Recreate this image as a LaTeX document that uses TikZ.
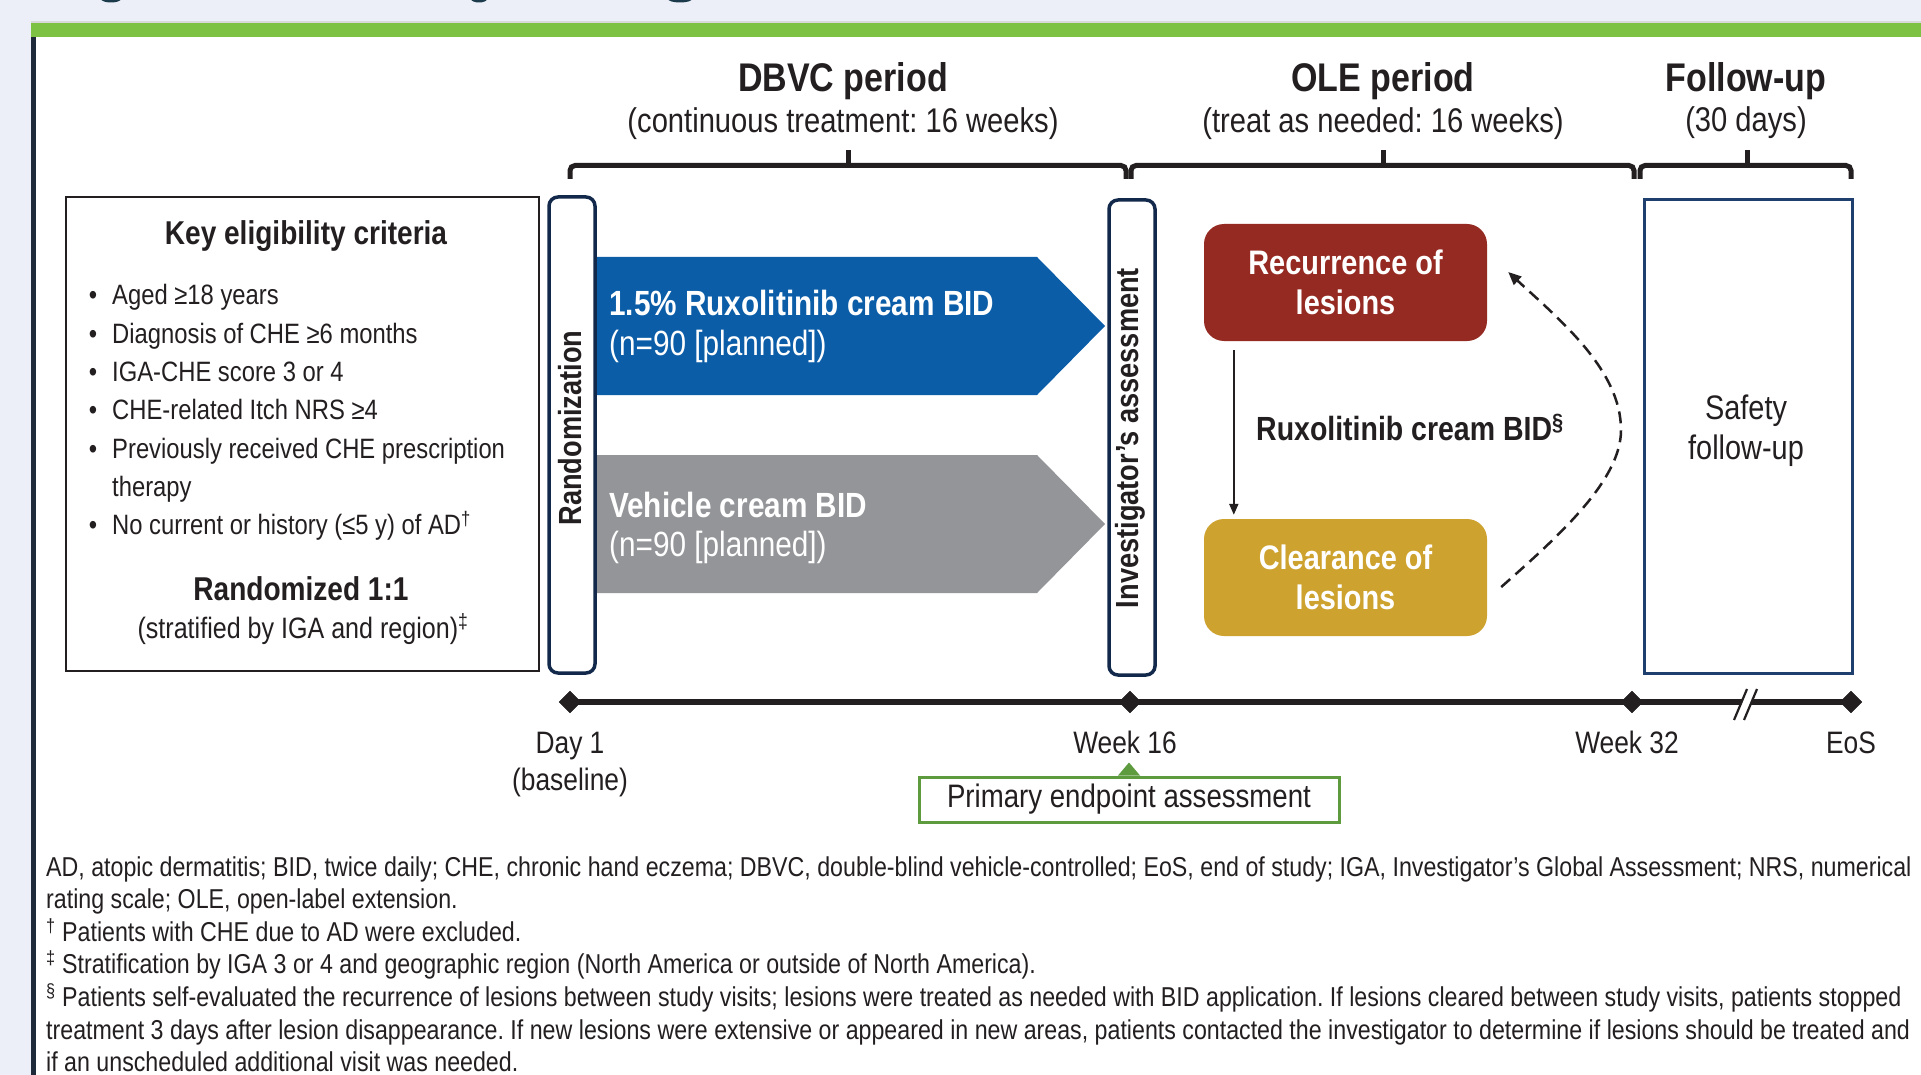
\documentclass[tikz,border=0pt]{standalone}
\usepackage{fontspec}
\setmainfont{Liberation Sans}[FakeStretch=0.85]
\usetikzlibrary{arrows.meta,shapes.geometric,calc}
\frenchspacing

\definecolor{pagebg}{HTML}{ECEFF7}
\definecolor{bargreen}{HTML}{7DC243}
\definecolor{rulecol}{HTML}{1E2A3A}
\definecolor{navy}{HTML}{13294B}
\definecolor{ruxblue}{HTML}{0B5DA8}
\definecolor{vehgrey}{HTML}{939598}
\definecolor{recred}{HTML}{952A22}
\definecolor{clrgold}{HTML}{CDA22F}
\definecolor{safenavy}{HTML}{1F3F6F}
\definecolor{endgreen}{HTML}{5E9B3F}
\definecolor{titleteal}{HTML}{1B3A4B}
\definecolor{ink}{HTML}{231F20}

\newcommand\fsz[2]{\fontsize{#1pt}{#2pt}\selectfont}

\tikzset{
  hdr/.style={font=\fsz{40}{48}\bfseries, text=ink, inner sep=0pt, anchor=base},
  sub/.style={font=\fsz{34.3}{41}\frenchspacing, text=ink, inner sep=0pt, anchor=base},
  brace/.style={line width=5pt, draw=ink, rounded corners=5pt},
  tick/.style={line width=5pt, draw=ink},
  panel/.style={draw=ink, line width=2.5pt, inner sep=0pt},
  vbar/.style={draw=navy, line width=3.5pt, rounded corners=9pt, inner sep=0pt,
               minimum width=46pt, minimum height=476pt},
  vtext/.style={rotate=90, font=\fsz{32}{38}\bfseries, text=ink, inner sep=0pt},
  bul/.style={font=\fsz{28}{34}, text=ink, inner sep=0pt, anchor=base west},
  dot/.style={font=\fsz{28}{34}, text=ink, inner sep=0pt, anchor=base},
  armhead/.style={font=\fsz{35}{42}\bfseries, text=white, inner sep=0pt, anchor=base west},
  armsub/.style={font=\fsz{35}{42}, text=white, inner sep=0pt, anchor=base west},
  statebox/.style={rounded corners=20pt, minimum width=283pt, minimum height=117pt,
                   align=center, text=white, font=\fsz{34}{40}\bfseries, inner sep=0pt},
  solidarr/.style={draw=ink, line width=2pt, -{Triangle[length=11pt,width=9pt]}},
  dasharr/.style={draw=ink, line width=2.5pt, dash pattern=on 12pt off 7pt,
                  -{Triangle[length=13pt,width=11pt]}},
  dia/.style={diamond, fill=ink, inner sep=0pt, minimum width=22pt, minimum height=22pt},
  tl/.style={draw=ink, line width=6.5pt},
  tlbl/.style={font=\fsz{31}{37}, text=ink, inner sep=0pt, anchor=base},
  fn/.style={font=\fsz{27.3}{33}\frenchspacing, text=ink, inner sep=0pt, anchor=base west},
}

\begin{document}
\begin{tikzpicture}[x=1pt,y=-1pt]
\useasboundingbox (0,0) rectangle (1921,1075);
\clip (0,0) rectangle (1921,1075);

% page and panel
\fill[pagebg] (0,0) rectangle (1921,1075);
\fill[titleteal] (111,-1) ellipse [x radius=10pt, y radius=3.5pt];
\fill[titleteal] (479,-1) ellipse [x radius=8pt, y radius=3.5pt];
\fill[titleteal] (680,-1) ellipse [x radius=12pt, y radius=3.5pt];
\fill[white] (35,37) rectangle (1921,1075);
\fill[gray!30] (31,21.3) rectangle (1921,22.8);
\fill[bargreen] (31,22.6) rectangle (1921,36.7);
\fill[rulecol] (31,36.7) rectangle (35.5,1075);

% period headers
\node[hdr] (hdbvc) at (843,92) {DBVC period};
\node[sub] (sdbvc) at (843,132.5) {(continuous treatment: 16 weeks)};
\node[hdr] (hole) at (1383,92) {OLE period};
\node[sub] (sole) at (1383,132.5) {(treat as needed: 16 weeks)};
\node[hdr] (hfu) at (1746,92) {Follow-up};
\node[sub] (sfu) at (1746,131.5) {(30 days)};

% braces
\draw[brace] (570,179) -- (570,165.5) -- (1126,165.5) -- (1126,179);
\draw[tick] (848,165.5) -- (848,150);
\draw[brace] (1131,179) -- (1131,165.5) -- (1634,165.5) -- (1634,179);
\draw[tick] (1383,165.5) -- (1383,150);
\draw[brace] (1640,179) -- (1640,165.5) -- (1851,165.5) -- (1851,179);
\draw[tick] (1747,165.5) -- (1747,150);

% eligibility panel
\node[panel, minimum width=473pt, minimum height=474pt] (crit) at (302.5,434) {};
\node[font=\fsz{33}{40}\bfseries, text=ink, inner sep=0pt, anchor=base] (crittitle) at (306,245) {Key eligibility criteria};
\node[dot] (b1) at (93,305) {•};
\node[bul] (t1) at (112,305) {Aged ≥18 years};
\node[dot] (b2) at (93,343.3) {•};
\node[bul] (t2) at (112,343.3) {Diagnosis of CHE ≥6 months};
\node[dot] (b3) at (93,381.6) {•};
\node[bul] (t3) at (112,381.6) {IGA-CHE score 3 or 4};
\node[dot] (b4) at (93,419.9) {•};
\node[bul] (t4) at (112,419.9) {CHE-related Itch NRS ≥4};
\node[dot] (b5) at (93,458.2) {•};
\node[bul] (t5) at (112,458.2) {Previously received CHE prescription};
\node[bul] (t5b) at (112,496.5) {therapy};
\node[dot] (b6) at (93,534.8) {•};
\node[bul] (t6) at (112,534.8) {No current or history (≤5 y) of AD\textsuperscript{†}};
\node[font=\fsz{33}{40}\bfseries, text=ink, inner sep=0pt, anchor=base] (rand11) at (301,600) {Randomized 1:1};
\node[font=\fsz{29.5}{35}, text=ink, inner sep=0pt, anchor=base] (strat) at (303,638) {(stratified by IGA and region)\textsuperscript{‡}};

% treatment arms
\fill[ruxblue] (595,257) -- (1037,257) -- (1105,326) -- (1037,395) -- (595,395) -- cycle;
\fill[vehgrey] (595,455) -- (1037,455) -- (1105,524) -- (1037,593) -- (595,593) -- cycle;
\node[armhead] (rxhead) at (609,315.5) {1.5\% Ruxolitinib cream BID};
\node[armsub] (rxn) at (609,355) {(n=90 [planned])};
\node[armhead] (vehhead) at (609,517) {Vehicle cream BID};
\node[armsub] (vehn) at (609,556) {(n=90 [planned])};

% randomization and assessment bars
\node[vbar] (rand) at (572,435) {};
\node[vtext] (randtxt) at (570,428) {Randomization};
\node[vbar, minimum height=475pt] (inv) at (1132,437.5) {};
\node[vtext] (invtxt) at (1130,438) {Investigator’s assessment};

% open-label cycle
\node[statebox, fill=recred] (rec) at (1345.5,282.5) {Recurrence of\\lesions};
\node[statebox, fill=clrgold] (clr) at (1345.5,577.5) {Clearance of\\lesions};
\draw[solidarr] ([shift={(30,9)}]rec.south west) -- ([shift={(30,-4)}]clr.north west);
\node[font=\fsz{33.5}{40}\bfseries, text=ink, inner sep=0pt, anchor=base west] (rxlbl) at (1256,440) {Ruxolitinib cream BID\textsuperscript{§}};
\draw[dasharr] ([shift={(14,9.5)}]clr.east) .. controls (1560,535) and (1621,480) .. (1621,430)
  .. controls (1621,370) and (1560,320) .. ([shift={(21,-10.5)}]rec.east);

% safety follow-up
\node[draw=safenavy, line width=3pt, minimum width=208pt, minimum height=473pt, inner sep=0pt] (safe) at (1748,436.5) {};
\node[font=\fsz{34}{40}, text=ink, align=center, inner sep=0pt] (safetxt) at (1746,430.5) {Safety\\follow-up};

% timeline
\node[dia] (d1) at (570,702) {};
\node[dia] (w16) at (1130,702) {};
\node[dia] (w32) at (1632,702) {};
\node[dia] (eos) at (1851,702) {};
\draw[tl] (d1.center) -- (eos.center);
\foreach \n in {d1,w16,w32,eos}
  \fill[ink] (\n.north) -- (\n.east) -- (\n.south) -- (\n.west) -- cycle;
\fill[white] (1735,722) -- (1748,687) -- (1757,687) -- (1744,722) -- cycle;
\draw[ink, line width=2.2pt] (1734,720) -- (1747,689) (1744,720) -- (1757,689);

\node[tlbl] (lday) at (570,753) {Day 1};
\node[tlbl] (lbase) at (570,790) {(baseline)};
\node[tlbl] (lw16) at (1125,753) {Week 16};
\node[tlbl] (lw32) at (1627,753) {Week 32};
\node[tlbl] (leos) at (1851,753) {EoS};

\node[draw=endgreen, line width=3pt, minimum width=420pt, minimum height=45pt, inner sep=0pt,
      font=\fsz{32.5}{39}, text=ink] (pea) at (1129,799.5) {Primary endpoint assessment};
\fill[endgreen] ([xshift=-11pt]pea.north) -- ([xshift=11pt]pea.north) -- ([yshift=13pt]pea.north) -- cycle;

% footnotes
\node[fn] (fn1) at (46,876) {AD, atopic dermatitis; BID, twice daily; CHE, chronic hand eczema; DBVC, double-blind vehicle-controlled; EoS, end of study; IGA, Investigator’s Global Assessment; NRS, numerical};
\node[fn] (fn2) at (46,908.6) {rating scale; OLE, open-label extension.};
\node[fn] (fn3) at (46,941.2) {\textsuperscript{†} Patients with CHE due to AD were excluded.};
\node[fn] (fn4) at (46,973.8) {\textsuperscript{‡} Stratification by IGA 3 or 4 and geographic region (North America or outside of North America).};
\node[fn] (fn5) at (46,1006.4) {\textsuperscript{§} Patients self-evaluated the recurrence of lesions between study visits; lesions were treated as needed with BID application. If lesions cleared between study visits, patients stopped};
\node[fn] (fn6) at (46,1039) {treatment 3 days after lesion disappearance. If new lesions were extensive or appeared in new areas, patients contacted the investigator to determine if lesions should be treated and};
\node[fn] (fn7) at (46,1071.6) {if an unscheduled additional visit was needed.};
\end{tikzpicture}
\end{document}
